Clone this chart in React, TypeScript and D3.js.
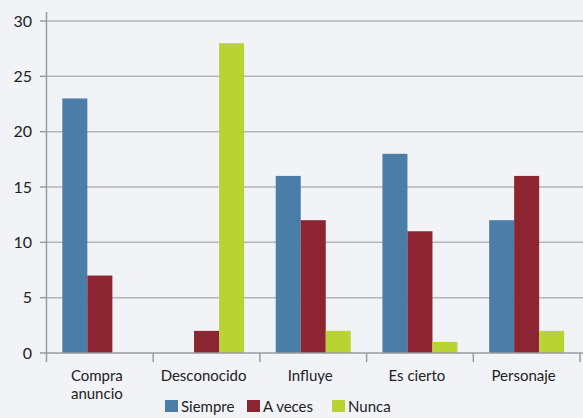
import React from "react";
import * as d3 from "d3";

const categories = ["Compra\nanuncio", "Desconocido", "Influye", "Es cierto", "Personaje"];
const seriesNames = ["Siempre", "A veces", "Nunca"];
const siempre = [23, 0, 16, 18, 12];
const aVeces = [7, 2, 12, 11, 16];
const nunca = [0, 28, 2, 1, 2];
const yTicks = [0, 5, 10, 15, 20, 25, 30];
const colors = ["#4a7ea8", "#8c2431", "#b9d432"];

const W = 583, H = 418;
const left = 46.5, right = 580, top = 21, bottom = 353;
const font = "Lato, sans-serif";

export default function App() {
  const values = [siempre, aVeces, nunca];
  const x0 = d3.scaleBand<number>().domain(d3.range(categories.length)).range([left, right]).padding(0);
  const x1 = d3.scaleBand<string>().domain(seriesNames).range([0, x0.bandwidth()]).paddingInner(0).paddingOuter(0.633);
  const y = d3.scaleLinear().domain([0, 30]).range([bottom, top]);
  return (
    <svg width={W} height={H} style={{ position: "absolute", left: 0, top: 0, background: "#f1f3f7" }}>
      <rect x={0} y={0} width={W} height={H} fill="#f1f3f7" />
      {yTicks.map((t) => (
        <g key={t}>
          {t > 0 && <line x1={left} x2={W} y1={y(t)} y2={y(t)} stroke="#b4b5b8" strokeWidth={1.5} />}
          <line x1={40} x2={left} y1={y(t)} y2={y(t)} stroke="#9a9b9e" strokeWidth={1.5} />
          <text x={32} y={y(t)} dy="0.35em" textAnchor="end" fontFamily={font} fontSize={16} fill="#222">{t}</text>
        </g>
      ))}
      {values.map((vals, si) =>
        vals.map((v, ci) => (
          <rect key={`${si}-${ci}`} x={x0(ci)! + x1(seriesNames[si])!} y={y(v)} width={x1.bandwidth()} height={bottom - y(v)} fill={colors[si]} />
        ))
      )}
      <line x1={left} x2={left} y1={12} y2={bottom} stroke="#9a9b9e" strokeWidth={1.5} />
      <line x1={left} x2={W} y1={bottom} y2={bottom} stroke="#9a9b9e" strokeWidth={1.5} />
      {d3.range(categories.length + 1).map((i) => {
        const xx = left + i * x0.step();
        return <line key={i} x1={xx} x2={xx} y1={bottom} y2={bottom + 9} stroke="#9a9b9e" strokeWidth={1.5} />;
      })}
      {categories.map((c, ci) => {
        const cx = x0(ci)! + x0.bandwidth() / 2 - 3;
        return c.split("\n").map((line, li) => (
          <text key={`${ci}-${li}`} x={cx} y={381 + li * 18} textAnchor="middle" fontFamily={font} fontSize={15} fill="#222">{line}</text>
        ));
      })}
      {seriesNames.map((s, si) => {
        const lx = [165, 247, 332][si];
        return (
          <g key={s}>
            <rect x={lx} y={400} width={13} height={12} fill={colors[si]} />
            <text x={lx + 16} y={411.5} fontFamily={font} fontSize={15} fill="#222">{s}</text>
          </g>
        );
      })}
    </svg>
  );
}
